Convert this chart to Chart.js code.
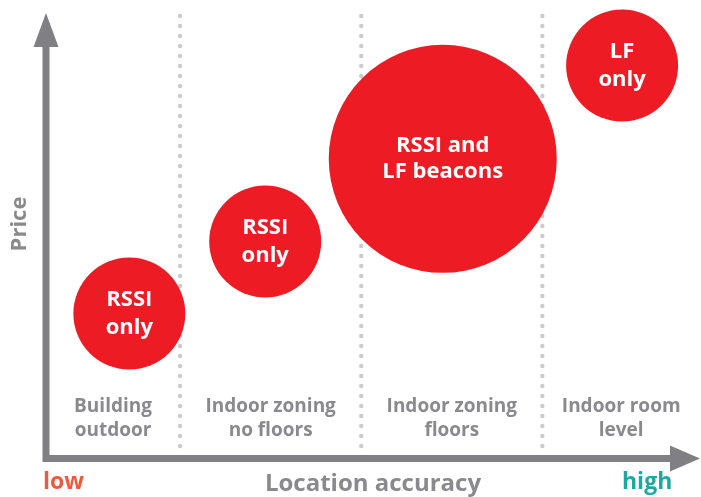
<!DOCTYPE html>
<html>
<head>
<meta charset="utf-8">
<script src="https://cdn.jsdelivr.net/npm/chart.js@4"></script>
<style>
  html, body { margin: 0; padding: 0; background: #fff; }
  #wrap { width: 701px; height: 497px; }
</style>
</head>
<body>
<div id="wrap"><canvas id="posChart"></canvas></div>
<script>
// bubbles: location accuracy (column units) vs price
const bubbleLabels = [['RSSI', 'only'], ['RSSI', 'only'], ['RSSI and', 'LF beacons'], ['LF', 'only']];
const accuracy = [0.72, 1.47, 2.45, 3.44];
const price = [3.2, 4.83, 6.7, 8.81];
const bubbleSize = [56, 56, 114, 56];
const categories = [['Building', 'outdoor'], ['Indoor zoning', 'no floors'], ['Indoor zoning', 'floors'], ['Indoor room', 'level']];
const separators = [1, 2, 3];

const red = '#ed1c24';
const axisGrey = '#808084';
const textGrey = '#8a8a8e';
const font = '"Open Sans", sans-serif';

const axesPlugin = {
  id: 'axesDecor',
  beforeDatasetsDraw(chart) {
    const { ctx, chartArea, scales } = chart;
    ctx.save();
    // dotted separators
    ctx.fillStyle = '#cbcbcd';
    separators.forEach(s => {
      const x = scales.x.getPixelForValue(s);
      for (let y = 16; y < chartArea.bottom; y += 10) {
        ctx.beginPath();
        ctx.arc(x, y, 2.2, 0, Math.PI * 2);
        ctx.fill();
      }
    });
    // category labels
    const bounds = [scales.x.min, ...separators, scales.x.max];
    ctx.fillStyle = textGrey;
    ctx.font = 'bold 19px ' + font;
    ctx.textAlign = 'center';
    ctx.textBaseline = 'middle';
    categories.forEach((lines, i) => {
      const x = scales.x.getPixelForValue((bounds[i] + bounds[i + 1]) / 2);
      ctx.fillText(lines[0], x, 407);
      ctx.fillText(lines[1], x, 431);
    });
    ctx.restore();
  },
  afterDatasetsDraw(chart) {
    const { ctx, chartArea } = chart;
    ctx.save();
    // bubble texts
    const meta = chart.getDatasetMeta(0);
    ctx.fillStyle = '#fff';
    ctx.font = 'bold 22px ' + font;
    ctx.textAlign = 'center';
    ctx.textBaseline = 'middle';
    meta.data.forEach((pt, i) => {
      const lines = bubbleLabels[i];
      const gap = bubbleSize[i] > 80 ? 13 : 14;
      ctx.fillText(lines[0], pt.x, pt.y - gap);
      ctx.fillText(lines[1], pt.x, pt.y + gap);
    });

    // axes with arrows
    const x0 = chartArea.left, y0 = chartArea.bottom;
    ctx.strokeStyle = axisGrey;
    ctx.fillStyle = axisGrey;
    ctx.lineWidth = 7;
    ctx.beginPath();
    ctx.moveTo(x0, 46);
    ctx.lineTo(x0, y0 + 3.5);
    ctx.lineTo(672, y0 + 3.5);
    ctx.stroke();
    ctx.beginPath();
    ctx.moveTo(x0, 13);
    ctx.lineTo(x0 - 12.5, 47);
    ctx.lineTo(x0 + 12.5, 47);
    ctx.closePath();
    ctx.fill();
    ctx.beginPath();
    ctx.moveTo(700, y0 + 3.5);
    ctx.lineTo(670, y0 - 9.5);
    ctx.lineTo(670, y0 + 16.5);
    ctx.closePath();
    ctx.fill();

    // axis titles
    ctx.font = 'bold 24px ' + font;
    ctx.fillStyle = textGrey;
    ctx.fillText('Location accuracy', 373, 484);
    ctx.save();
    ctx.translate(20, 224);
    ctx.rotate(-Math.PI / 2);
    ctx.font = 'bold 22px ' + font;
    ctx.fillText('Price', 0, 0);
    ctx.restore();
    ctx.font = 'bold 23px ' + font;
    ctx.textAlign = 'left';
    ctx.fillStyle = '#f05a3c';
    ctx.fillText('low', 43, 482);
    ctx.fillStyle = '#1fa8a0';
    ctx.fillText('high', 622, 482);
    ctx.restore();
  },
};

new Chart(document.getElementById('posChart'), {
  type: 'bubble',
  data: {
    datasets: [{
      data: accuracy.map((a, i) => ({ x: a, y: price[i], r: bubbleSize[i] })),
      backgroundColor: red,
      borderWidth: 0,
      hoverRadius: 0,
      clip: false,
    }],
  },
  options: {
    responsive: true,
    maintainAspectRatio: false,
    animation: false,
    layout: { autoPadding: false, padding: { left: 46, top: 13, right: 1, bottom: 42 } },
    plugins: { legend: { display: false }, tooltip: { enabled: false } },
    scales: {
      x: { type: 'linear', min: 0.26, max: 3.87, display: false },
      y: { type: 'linear', min: 0, max: 10, display: false },
    },
  },
  plugins: [axesPlugin],
});
</script>
</body>
</html>
